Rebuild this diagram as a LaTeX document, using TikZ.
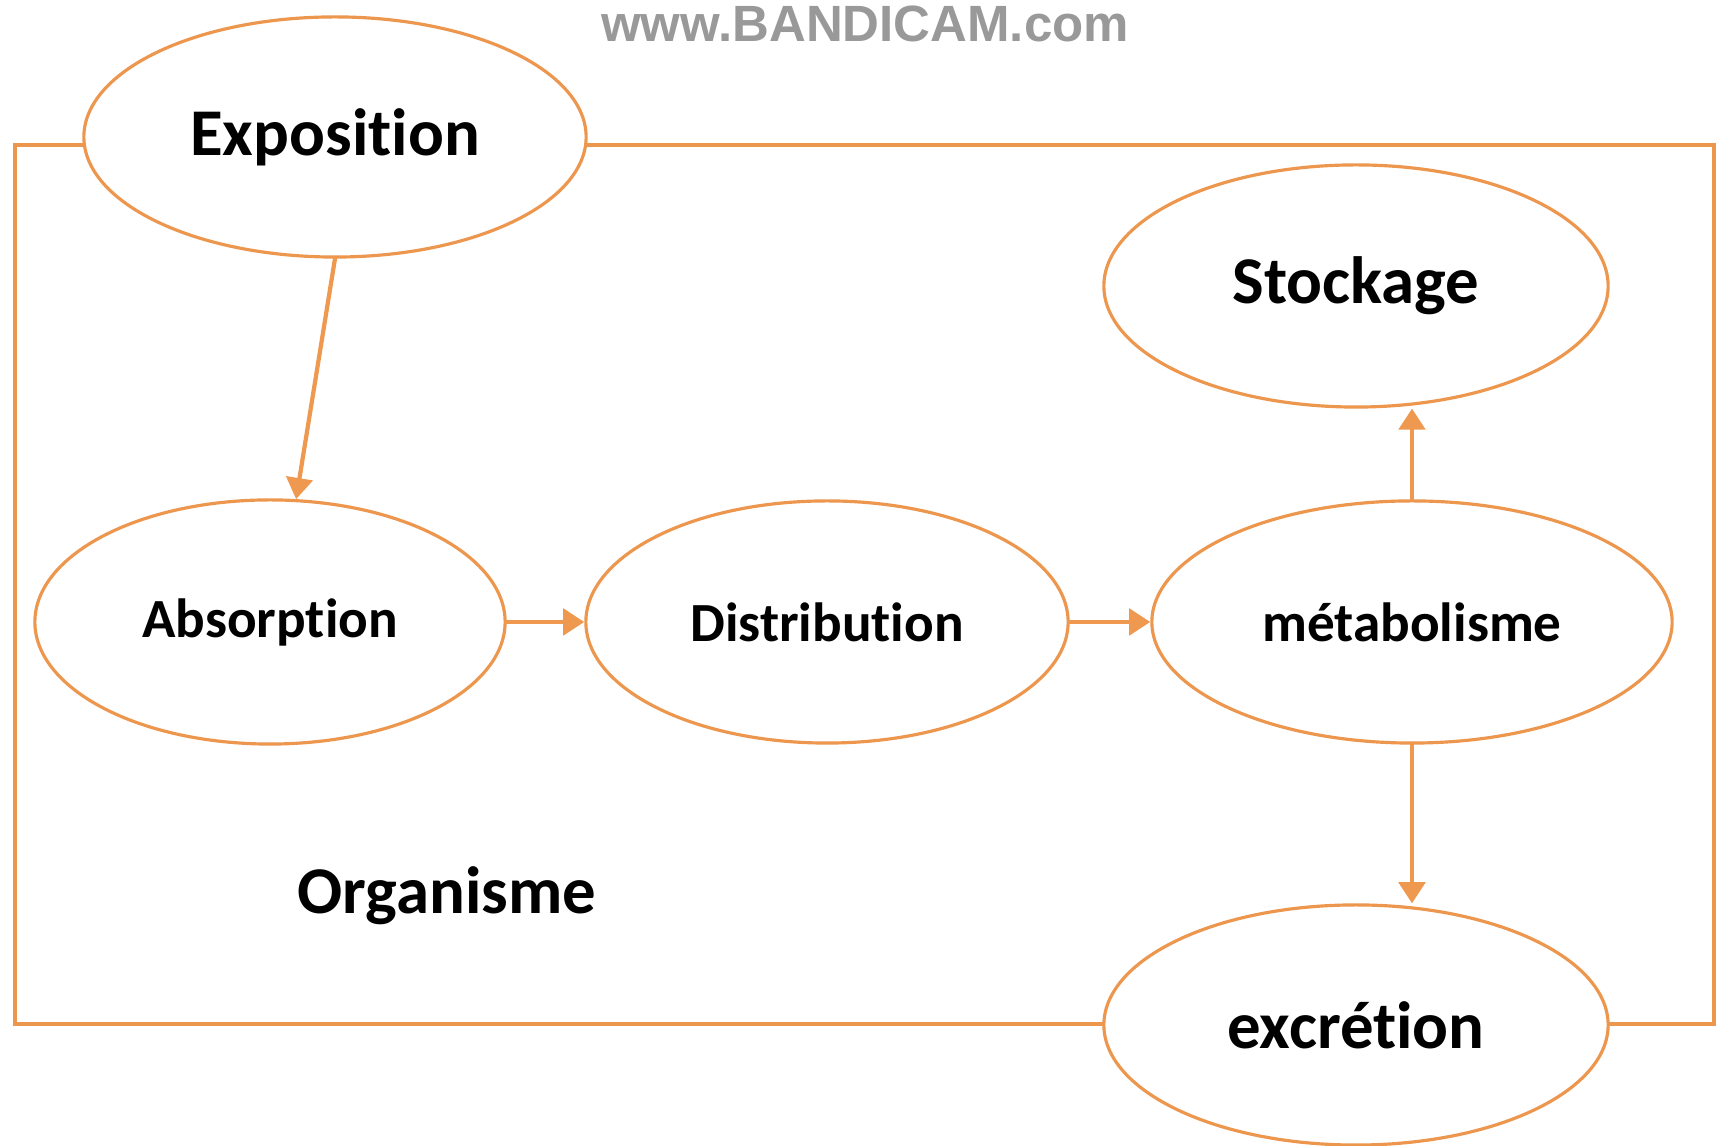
\documentclass[tikz,border=0pt]{standalone}
\usepackage{fontspec}
\setmainfont[Ligatures = NoCommon]{Carlito}
\newfontfamily\markfont{Liberation Sans}
\usetikzlibrary{shapes.geometric}
\usetikzlibrary{arrows.meta}

\begin{document}
\begin{tikzpicture}
[x = 0.01cm, y = 0.01cm, line cap = round,
stage/.style = {ellipse, draw = stagecolor, line width = 0.9pt, fill = white, inner sep = 0pt, font = \fontsize{19}{23}\selectfont\bfseries},
small stage/.style = {stage, font = \fontsize{15.7}{19}\selectfont\bfseries},
flow/.style = {draw = flowcolor, line width = 1.2pt, -{Triangle[length = 6pt, width = 7.5pt]}},
body line/.style = {draw = stagecolor, line width = 0.9pt}]

\definecolor{stagecolor}{RGB}{236,150,78}
\definecolor{flowcolor}{RGB}{238,152,80}

\useasboundingbox (0, 0) rectangle (1717, 1146);

% organism boundary
\draw[body line] (15, 122) rectangle (1714, 1001);
\node[font = \fontsize{19}{23}\selectfont\bfseries] (organisme) at (447, 250) {Organisme};

% stages
\node[stage, minimum width = 5.02cm, minimum height = 2.40cm] (exposition) at (335, 1009) {Exposition};
\node[stage, minimum width = 5.04cm, minimum height = 2.42cm] (stockage) at (1356, 860) {Stockage};
\node[small stage, minimum width = 4.70cm, minimum height = 2.44cm] (absorption) at (270, 524) {Absorption};
\node[small stage, minimum width = 4.82cm, minimum height = 2.42cm] (distribution) at (827, 524) {Distribution};
\node[small stage, minimum width = 5.20cm, minimum height = 2.42cm] (metabolisme) at (1412, 524) {métabolisme};
\node[stage, minimum width = 5.04cm, minimum height = 2.40cm] (excretion) at (1356, 121) {excrétion};

% flows
\draw[flow] (exposition.south) -- (absorption.78);
\draw[flow] (absorption.east) -- (distribution.west);
\draw[flow] (distribution.east) -- (metabolisme.west);
\draw[flow] (metabolisme.north) -- (metabolisme.north |- stockage.south);
\draw[flow] (metabolisme.south) -- (metabolisme.south |- excretion.north);

% recorder watermark
\node[text = black!40, font = \markfont\fontsize{14.5}{17}\selectfont\bfseries] (watermark) at (865, 1122) {www.BANDICAM.com};
\end{tikzpicture}
\end{document}
